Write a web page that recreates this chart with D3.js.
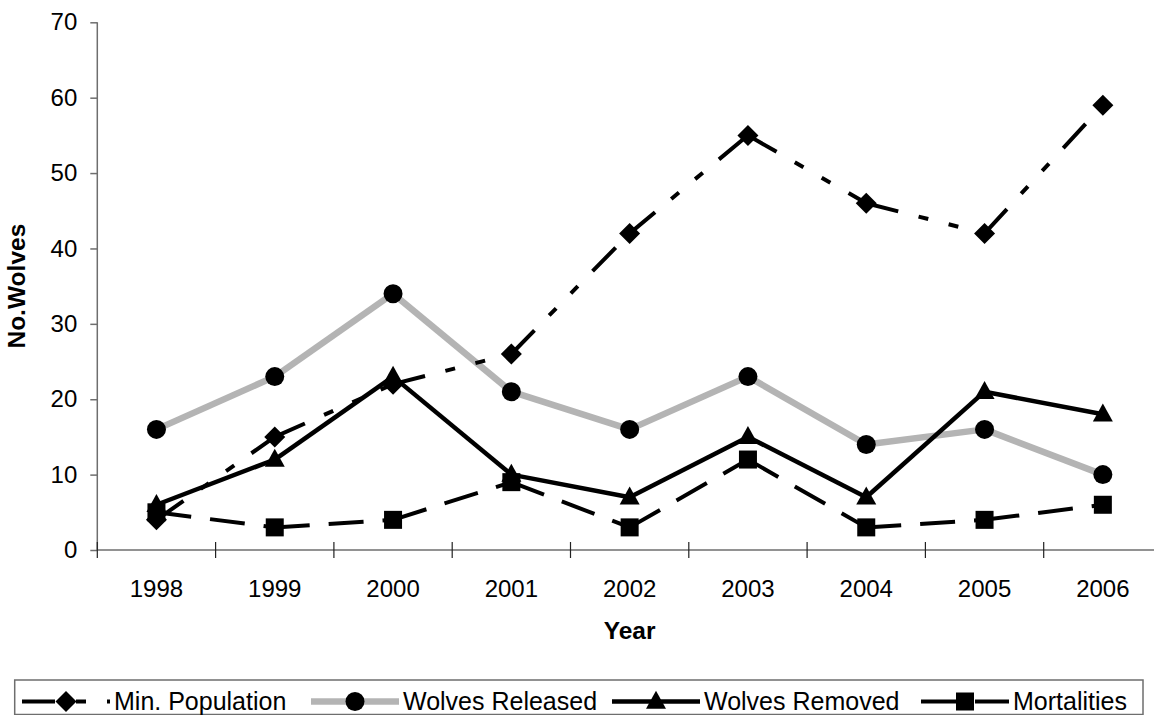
<!DOCTYPE html>
<html>
<head>
<meta charset="utf-8">
<script src="https://cdn.jsdelivr.net/npm/d3@7"></script>
<style>
  html, body { margin: 0; padding: 0; background: #fff; }
  svg { display: block; }
  text { font-family: "Liberation Sans", Arial, sans-serif; fill: #000; }
</style>
</head>
<body>
<svg id="chart" width="1154" height="715"></svg>
<script>
// ---- data ----
const years = ["1998", "1999", "2000", "2001", "2002", "2003", "2004", "2005", "2006"];
const minPopulation = [4, 15, 22, 26, 42, 55, 46, 42, 59];
const wolvesReleased = [16, 23, 34, 21, 16, 23, 14, 16, 10];
const wolvesRemoved = [6, 12, 23, 10, 7, 15, 7, 21, 18];
const mortalities = [5, 3, 4, 9, 3, 12, 3, 4, 6];
const yTicks = [0, 10, 20, 30, 40, 50, 60, 70];
const seriesNames = ["Min. Population", "Wolves Released", "Wolves Removed", "Mortalities"];

const svg = d3.select("#chart");
const plot = { left: 97.3, right: 1162, top: 22.3, bottom: 550 };

const x = d3.scaleBand().domain(years).range([plot.left, plot.right]).padding(0);
const y = d3.scaleLinear().domain([0, 70]).range([plot.bottom, plot.top]);
const cx = d => x(d) + x.bandwidth() / 2;

const axisColor = "#6e6e6e";

// ---- axes ----
const yAxis = svg.append("g")
  .attr("transform", `translate(${plot.left},0)`)
  .call(d3.axisLeft(y).tickValues(yTicks).tickSize(7).tickPadding(13).tickFormat(d3.format("d")));
yAxis.select(".domain").remove();
yAxis.selectAll(".tick line").attr("stroke", axisColor).attr("stroke-width", 1.5);
yAxis.selectAll(".tick text").style("font-size", "24px").attr("fill", "#000");

svg.append("line")
  .attr("x1", plot.left).attr("x2", plot.left)
  .attr("y1", y(70)).attr("y2", y(0))
  .attr("stroke", axisColor).attr("stroke-width", 1.5);

const xAxis = svg.append("g")
  .attr("transform", `translate(0,${plot.bottom})`)
  .call(d3.axisBottom(x).tickSize(0).tickPadding(0));
xAxis.select(".domain").remove();
xAxis.selectAll(".tick text")
  .attr("y", 46.5).attr("dy", null)
  .style("font-size", "24px").attr("fill", "#000");

svg.append("line")
  .attr("x1", plot.left).attr("x2", plot.right)
  .attr("y1", plot.bottom).attr("y2", plot.bottom)
  .attr("stroke", axisColor).attr("stroke-width", 1.5);

// category boundary ticks (crossing axis)
const boundaries = years.map(d => x(d)).concat([x(years[years.length - 1]) + x.bandwidth()]);
svg.append("g").selectAll("line").data(boundaries).join("line")
  .attr("x1", d => d).attr("x2", d => d)
  .attr("y1", plot.bottom - 8).attr("y2", plot.bottom + 8)
  .attr("stroke", "#222").attr("stroke-width", 1.2);

// axis titles
svg.append("text")
  .attr("x", (plot.left + plot.right) / 2).attr("y", 639.3)
  .attr("text-anchor", "middle")
  .style("font-size", "24.5px").style("font-weight", "bold")
  .text("Year");

svg.append("text")
  .attr("transform", `translate(25.3,${(plot.top + plot.bottom) / 2}) rotate(-90)`)
  .attr("text-anchor", "middle")
  .style("font-size", "24.5px").style("font-weight", "bold")
  .text("No.Wolves");

// ---- series styles ----
const styles = {
  minPop: { color: "#000", width: 4, dash: "33,21,10,21,10,21" },
  released: { color: "#b4b4b4", width: 6.5, dash: null },
  removed: { color: "#000", width: 4.5, dash: null },
  mort: { color: "#000", width: 4, dash: "35,19" }
};

function drawMarker(g, type, px, py) {
  if (type === "diamond") {
    const r = 10.5;
    g.append("path").attr("d", `M${px},${py - r}L${px + r},${py}L${px},${py + r}L${px - r},${py}Z`).attr("fill", "#000");
  } else if (type === "circle") {
    g.append("circle").attr("cx", px).attr("cy", py).attr("r", 9.5).attr("fill", "#000");
  } else if (type === "triangle") {
    const w = 20, h = 18;
    g.append("path").attr("d", `M${px},${py - h * 0.6}L${px + w / 2},${py + h * 0.4}L${px - w / 2},${py + h * 0.4}Z`).attr("fill", "#000");
  } else if (type === "square") {
    const s = 18;
    g.append("rect").attr("x", px - s / 2).attr("y", py - s / 2).attr("width", s).attr("height", s).attr("fill", "#000");
  }
}

// each segment drawn separately so the dash pattern restarts at every point
function drawSeriesLine(values, st) {
  const g = svg.append("g");
  const pts = years.map((yr, i) => [cx(yr), y(values[i])]);
  for (let i = 0; i < pts.length - 1; i++) {
    g.append("line")
      .attr("x1", pts[i][0]).attr("y1", pts[i][1])
      .attr("x2", pts[i + 1][0]).attr("y2", pts[i + 1][1])
      .attr("stroke", st.color).attr("stroke-width", st.width)
      .attr("stroke-dasharray", st.dash)
      .attr("stroke-linecap", "butt");
  }
}
function drawSeriesMarkers(values, type) {
  const g = svg.append("g");
  years.forEach((yr, i) => drawMarker(g, type, cx(yr), y(values[i])));
}

drawSeriesLine(wolvesReleased, styles.released);
drawSeriesLine(minPopulation, styles.minPop);
drawSeriesLine(wolvesRemoved, styles.removed);
drawSeriesLine(mortalities, styles.mort);

drawSeriesMarkers(mortalities, "square");
drawSeriesMarkers(wolvesRemoved, "triangle");
drawSeriesMarkers(wolvesReleased, "circle");
drawSeriesMarkers(minPopulation, "diamond");

// ---- legend ----
const legendY = 701.5;
const legend = svg.append("g");
legend.append("rect")
  .attr("x", 14.7).attr("y", 680).attr("width", 1143 - 14.7).attr("height", 34.5)
  .attr("fill", "#fff").attr("stroke", axisColor).attr("stroke-width", 1.5);

const legendItems = [
  { name: seriesNames[0], st: styles.minPop, marker: "diamond", tx: 114 },
  { name: seriesNames[1], st: styles.released, marker: "circle", tx: 403 },
  { name: seriesNames[2], st: styles.removed, marker: "triangle", tx: 704 },
  { name: seriesNames[3], st: styles.mort, marker: "square", tx: 1013 }
];
const sampleW = 88;
legendItems.forEach(item => {
  const lx = item.tx - sampleW - 4;
  legend.append("line")
    .attr("x1", lx).attr("x2", lx + sampleW)
    .attr("y1", legendY).attr("y2", legendY)
    .attr("stroke", item.st.color).attr("stroke-width", item.st.width)
    .attr("stroke-dasharray", item.st.dash);
  drawMarker(legend, item.marker, lx + sampleW / 2, legendY);
  legend.append("text")
    .attr("x", item.tx).attr("y", legendY + 8.7)
    .style("font-size", "25px")
    .text(item.name);
});
</script>
</body>
</html>
